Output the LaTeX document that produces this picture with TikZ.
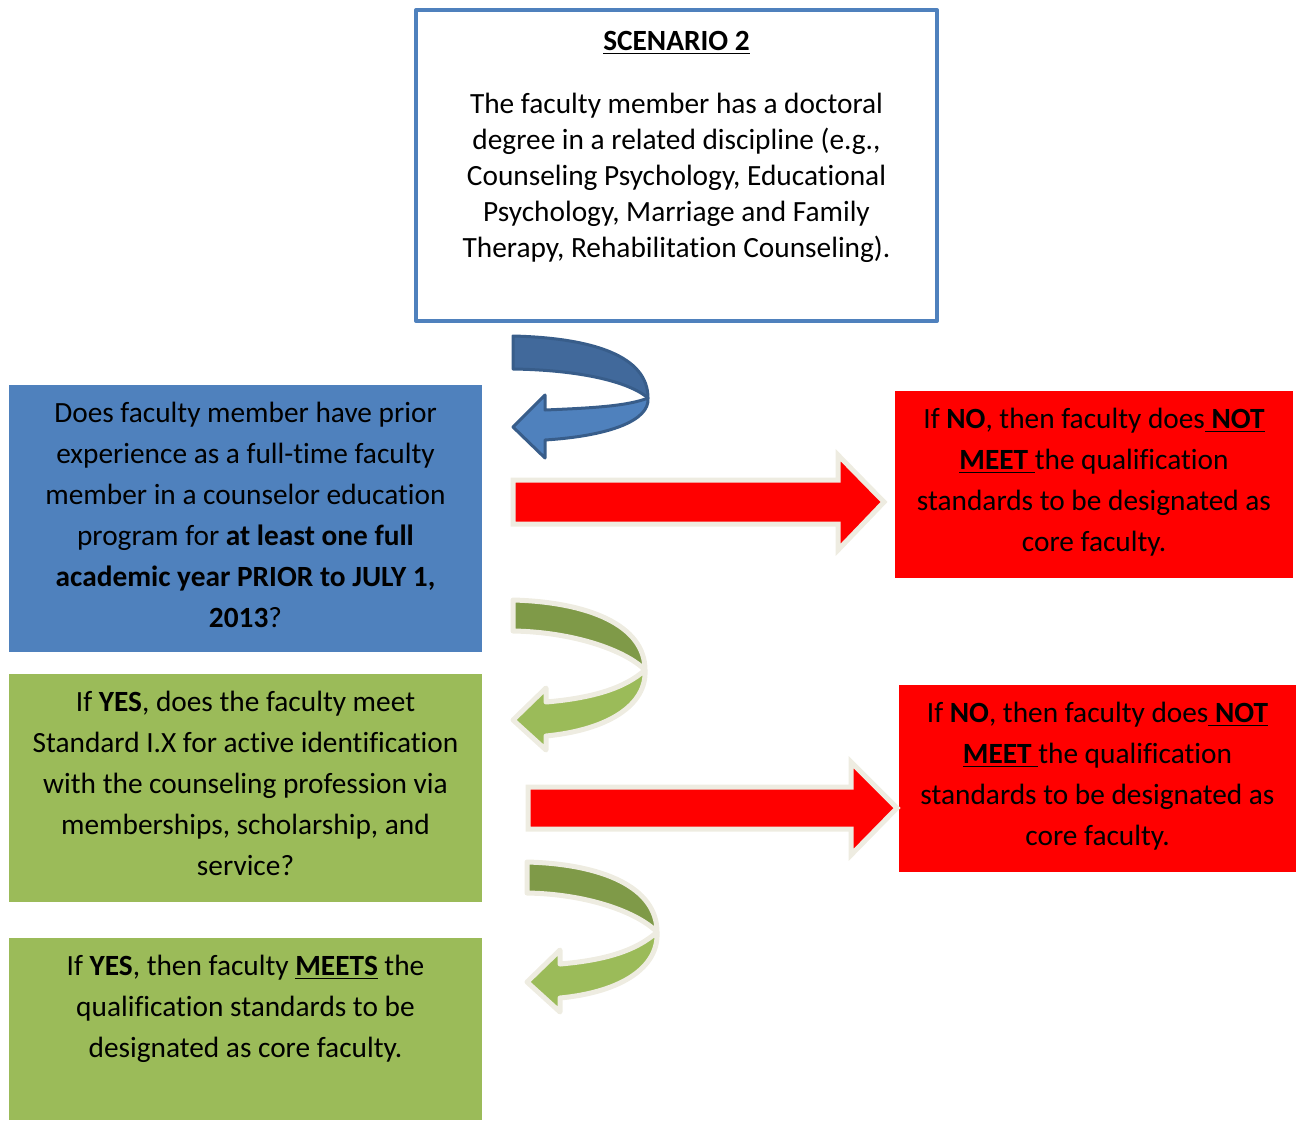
\documentclass[tikz,border=0pt]{standalone}
\usepackage{fontspec}
\setmainfont{Carlito}[Ligatures=NoCommon]
\usetikzlibrary{positioning}
\usetikzlibrary{fit}
\definecolor{boxblue}{HTML}{4F81BD}
\definecolor{boxgreen}{HTML}{9BBB59}
\definecolor{bandgreen}{HTML}{7F9A48}
\definecolor{bandblue}{HTML}{41699B}
\definecolor{edgeblue}{HTML}{385D8A}
\definecolor{cream}{HTML}{EEECE1}
\tikzset{
  panel/.style={inner sep=0pt, outer sep=0pt},
  txt/.style={align=center, inner sep=0pt, font=\fontsize{22}{30.75}\selectfont},
  redarrow/.style={fill=red, draw=cream, line width=3.75pt, line join=miter},
  greenband/.style={draw=cream, line width=3.75pt},
  blueband/.style={draw=edgeblue, line width=2.25pt}
}
\begin{document}
\begin{tikzpicture}[x=0.75pt,y=-0.75pt,line join=round]
\useasboundingbox (0,0) rectangle (1296,1121);
% boxes
\node[panel, draw=boxblue, line width=3pt, fit={(416,10) (937,321)}] (scen) {};
\node[panel, fill=boxblue, fit={(9,385) (482,652)}] (prior) {};
\node[panel, fill=boxgreen, fit={(9,674) (482,902)}] (ident) {};
\node[panel, fill=boxgreen, fit={(9,938) (482,1120)}] (meets) {};
\node[panel, fill=red, fit={(895,391) (1293,578)}] (nomeet1) {};
\node[panel, fill=red, fit={(899,685) (1296,872)}] (nomeet2) {};
% texts
\node[txt, font=\fontsize{22}{27}\selectfont, below=16pt of scen.north] (scentxt)
  {\textbf{\underline{SCENARIO 2}}\\[20.25pt]
   The faculty member has a doctoral\\
   degree in a related discipline (e.g.,\\
   Counseling Psychology, Educational\\
   Psychology, Marriage and Family\\
   Therapy, Rehabilitation Counseling).};
\node[txt, below=13pt of prior.north] (priortxt)
  {Does faculty member have prior\\
   experience as a full-time faculty\\
   member in a counselor education\\
   program for \textbf{at least one full}\\
   \textbf{academic year PRIOR to JULY 1,}\\
   \textbf{2013}?};
\node[txt, below=13pt of ident.north] (identtxt)
  {If \textbf{YES}, does the faculty meet\\
   Standard I.X for active identification\\
   with the counseling profession via\\
   memberships, scholarship, and\\
   service?};
\node[txt, below=13pt of meets.north] (meetstxt)
  {If \textbf{YES}, then faculty \textbf{\underline{MEETS}} the\\
   qualification standards to be\\
   designated as core faculty.};
\node[txt, below=13pt of nomeet1.north] (nomeet1txt)
  {If \textbf{NO}, then faculty does\underline{\textbf{\ NOT}}\\
   \underline{\textbf{MEET\ }}the qualification\\
   standards to be designated as\\
   core faculty.};
\node[txt, below=13pt of nomeet2.north] (nomeet2txt)
  {If \textbf{NO}, then faculty does\underline{\textbf{\ NOT}}\\
   \underline{\textbf{MEET\ }}the qualification\\
   standards to be designated as\\
   core faculty.};
% straight arrows
\draw[redarrow] (513,480) -- (838,480) -- (838,455) -- (884,502) -- (838,550) -- (838,524) -- (513,524) -- cycle;
\draw[redarrow] (528,787) -- (851,787) -- (851,762) -- (897,808) -- (851,855) -- (851,829) -- (528,829) -- cycle;
% curved arrows
\begin{scope}[shift={(513,336)}]
\draw[blueband, fill=bandblue] (0,0) .. controls (80,2) and (135,20) .. (135,62) .. controls (115,45) and (65,34) .. (0,33) -- cycle;
\draw[blueband, fill=boxblue] (135,62) .. controls (115,70) and (80,72) .. (32,74) -- (32,59) -- (0,91) -- (32,122) -- (32,104) .. controls (95,100) and (137,85) .. (135,62) -- cycle;
\end{scope}
\foreach \x/\y/\w in {513/600/132, 527/862/130}{
\begin{scope}[shift={(\x,\y)}]
\draw[greenband, fill=bandgreen] (0,0) .. controls (75,2) and (\w,25) .. (\w,70) .. controls (\w-20,50) and (60,32) .. (0,31) -- cycle;
\draw[greenband, fill=boxgreen] (\w,70) .. controls (\w-20,88) and (80,98) .. (33,102) -- (33,88) -- (0,120) -- (33,150) -- (33,136) .. controls (95,130) and (\w+2,105) .. (\w,70) -- cycle;
\end{scope}
}
\end{tikzpicture}
\end{document}
